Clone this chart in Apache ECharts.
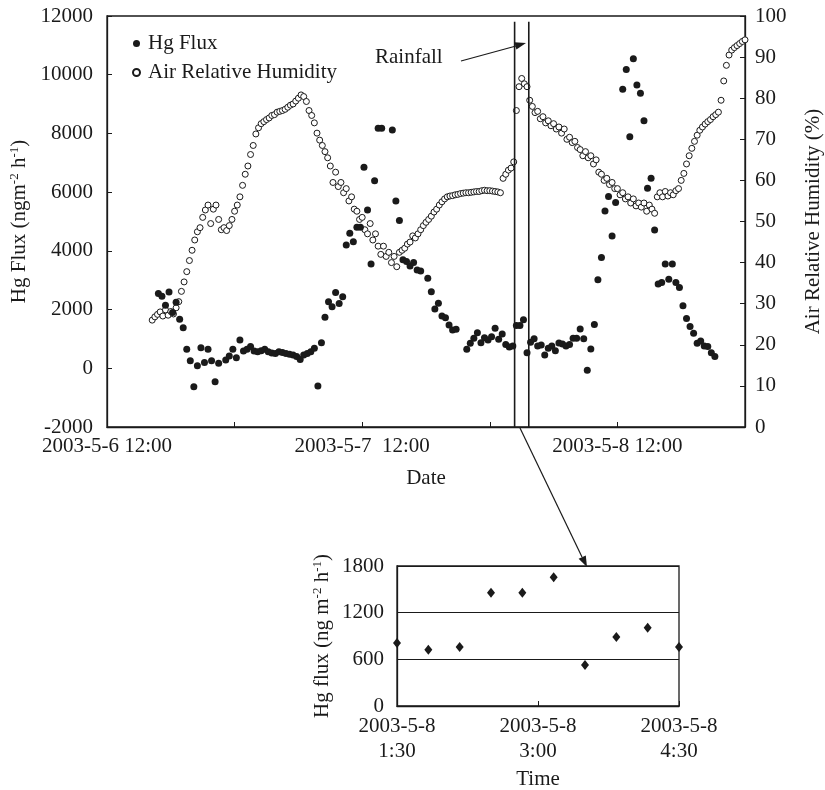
<!DOCTYPE html>
<html><head><meta charset="utf-8">
<script src="https://cdn.jsdelivr.net/npm/echarts@6/dist/echarts.min.js"></script>
<style>html,body{margin:0;padding:0;background:#fff}#c{width:825px;height:790px}</style>
</head><body><div id="c"></div>
<script>
// ---------- data ----------
const axisStart = '2003-05-06T12:00:00';
const axisEnd = '2003-05-09T00:00:00';
const xTickLabels = { 0: '2003-5-6 12:00', 24: '2003-5-7  12:00', 48: '2003-5-8 12:00' };

// Hg flux: one reading every 20 minutes from hgStart (null = no reading)
const hgStart = '2003-05-06T16:50:00';
const hgStepMin = 20;
const hgFlux = [
  2550, 2450, 2150, 2600, 1900, 2250, 1670, 1380, 650, 260,
  -630, 90, 700, 200, 650, 260, -460, 170, null, 280,
  420, 650, 360, 960, 590, 650, 740, 590, 560, 600,
  650, 560, 520, 500, 560, 540, 500, 480, 450, 400,
  300, 450, 500, 560, 680, -600, 870, 1740, 2270, 2100,
  2580, 2210, 2440, 4200, 4600, 4310, 4800, 4800, 6850, 5390,
  3550, 6390, 8180, 8180, null, null, 8120, 5700, 5030, 3700,
  3640, 3485, 3600, 3350, 3315, null, 3066, 2610, 2020, 2215,
  1782, 1724, 1475, 1305, 1329, null, null, 647, 852, 1022,
  1213, 872, 1043, 964, 1077, 1363, 988, 1168, 810, 724,
  759, 1457, 1457, 1654, 527, 887, 1007, 759, 794, 453,
  681, 760, 600, 860, 830, 760, 810, 1022, 1022, 1340,
  1010, -70, 658, 1490, 3020, 3775, 5360, 5850, 4510, 5650,
  null, 9505, 10175, 7890, 10545, 9650, 9370, 8430, 6130, 6470,
  4710, 2870, 2920, 3550, 3030, 3550, 2920, 2750, 2130, 1700,
  1420, 1190, 850, 930, 760, 740, 530, 400
];

// Air relative humidity (%): one reading every 15 minutes from humStart
const humStart = '2003-05-06T16:15:00';
const humStepMin = 15;
const humidity = [
  26.0, 26.8, 27.4,
  28.0, 27.0, 28.5, 27.2,  28.1, 27.5, 29.0, 30.5,  33.0, 35.3, 37.8, 40.5,
  43.0, 45.5, 47.5, 48.5,  51.0, 52.8, 54.0, 49.5,  53.0, 54.0, 50.5, 48.0,
  48.5, 47.8, 49.0, 50.5,  52.5, 54.0, 56.0, 58.8,  61.5, 63.5, 66.3, 68.5,
  71.3, 72.8, 73.8, 74.3,  74.8, 75.2, 75.8, 76.0,  76.6, 76.8, 77.0, 77.3,
  77.8, 78.3, 78.6, 79.3,  80.0, 80.8, 80.4, 79.2,  77.0, 75.8, 74.0, 71.5,
  69.8, 68.5, 67.0, 65.5,  63.5, 59.5, 62.0, 58.5,  59.5, 57.0, 58.0, 55.0,
  56.0, 53.0, 52.5, 50.5,  51.0, 48.0, 47.0, 49.5,  45.5, 47.0, 44.0, 42.0,
  44.0, 41.5, 42.5, 40.0,  41.5, 39.0, 42.5, 43.0,  43.5, 44.5, 45.0, 46.5,
  46.0, 47.0, 48.0, 49.0,  49.8, 50.5, 51.3, 52.3,  53.0, 54.0, 54.8, 55.5,
  56.0, 56.2, 56.3, 56.5,  56.6, 56.8, 56.9, 57.0,  57.0, 57.1, 57.2, 57.3,
  57.3, 57.5, 57.6, 57.5,  57.5, 57.4, 57.3, 57.2,  57.0, 60.5, 61.5, 62.5,
  63.0, 64.5, 77.0, 82.8,  84.8, 83.5, 82.8, 79.5,  78.0, 76.5, 76.8, 75.0,
  75.5, 74.0, 74.5, 73.3,  73.8, 72.5, 73.0, 71.5,  72.5, 70.0, 70.5, 69.2,
  69.5, 68.0, 67.5, 66.0,  67.0, 65.5, 66.0, 64.0,  65.0, 62.0, 61.5, 60.0,
  60.5, 59.0, 59.5, 58.0,  58.0, 56.5, 57.0, 55.5,  56.0, 54.5, 55.5, 53.8,
  54.5, 53.5, 54.5, 52.5,  54.0, 53.0, 52.0, 56.0,  57.0, 56.0, 57.3, 56.2,
  57.0, 56.5, 57.5, 58.0,  60.0, 61.7, 64.0, 66.0,  67.8, 69.5, 71.0, 72.2,
  73.0, 73.7, 74.3, 74.8,  75.5, 76.0, 76.6, 79.5,  84.2, 88.0, 90.5, 91.7,
  92.3, 92.8, 93.3, 93.8,  94.2
];

// Rainfall period (vertical lines)
const rainfallTimes = ['2003-05-08T02:20:00', '2003-05-08T03:40:00'];
const rainLineTop = 11800;

// Inset: Hg flux 2003-5-8 1:30 - 4:30
const insetTimes = ['1:30', '1:50', '2:10', '2:30', '2:50', '3:10', '3:30', '3:50', '4:10', '4:30'];
const insetFlux = [810, 724, 759, 1457, 1457, 1654, 527, 887, 1007, 759];
const insetTickLabels = ['2003-5-8\n1:30', '2003-5-8\n3:00', '2003-5-8\n4:30'];

// ---------- build ----------
const T0 = new Date(axisStart).getTime();
const hoursFrom = s => (new Date(s).getTime() - T0) / 3600000;
const hgT0 = hoursFrom(hgStart);
const humT0 = hoursFrom(humStart);
const hgData = [];
hgFlux.forEach((v, i) => { if (v !== null) hgData.push([hgT0 + i * hgStepMin / 60, v]); });
const humData = humidity.map((v, i) => [humT0 + i * humStepMin / 60, v]);
const tMax = hoursFrom(axisEnd);
const toMin = s => { const p = s.split(':'); return (+p[0]) * 60 + (+p[1]); };
const insetBase = toMin(insetTimes[0]);
const insetData = insetTimes.map((t, i) => [toMin(t) - insetBase, insetFlux[i]]);
const insetMax = toMin(insetTimes[insetTimes.length - 1]) - insetBase;

const FONT = '"Liberation Serif", "Times New Roman", serif';
const INK = '#1a1a1a';
const FS = 21;
const txt = (size) => ({ fontFamily: FONT, fontSize: size, color: INK });
const axisLine = { show: true, onZero: false, lineStyle: { color: INK, width: 1.3 } };
const plain = v => String(v);
const supName = { rich: { a: { ...txt(FS), lineHeight: 23 }, s: { ...txt(13), verticalAlign: 'top', lineHeight: 23 } } };

const chart = echarts.init(document.getElementById('c'), null, { renderer: 'canvas' });
const rainSeries = rainfallTimes.map(t => ({
  type: 'line', xAxisIndex: 0, yAxisIndex: 0, silent: true, symbol: 'none', z: 4,
  data: [[hoursFrom(t), -2000], [hoursFrom(t), rainLineTop]],
  lineStyle: { color: INK, width: 1.6 }
}));

chart.setOption({
  animation: false,
  backgroundColor: '#fff',
  grid: [
    { left: 107, top: 16, width: 638, height: 411, show: true, borderColor: INK, borderWidth: 1.3,
      backgroundColor: 'transparent', containLabel: false, outerBoundsMode: 'none' },
    { left: 397, top: 566, width: 282, height: 140, show: true, borderColor: INK, borderWidth: 1.3,
      backgroundColor: 'transparent', containLabel: false, outerBoundsMode: 'none' }
  ],
  legend: {
    data: ['Hg Flux', 'Air Relative Humidity'],
    orient: 'vertical', left: 127, top: 28, itemWidth: 13, itemHeight: 7, itemGap: 8,
    textStyle: txt(FS), selectedMode: false
  },
  xAxis: [
    {
      type: 'value', gridIndex: 0, min: 0, max: tMax, interval: 12,
      axisLine, axisTick: { inside: true, length: 5, lineStyle: { color: INK } },
      splitLine: { show: false },
      axisLabel: { ...txt(FS), margin: 9, showMaxLabel: true, formatter: v => xTickLabels[v] || '' },
      name: 'Date', nameLocation: 'middle', nameGap: 41, nameTextStyle: txt(FS)
    },
    {
      type: 'value', gridIndex: 1, min: 0, max: insetMax, interval: 90,
      axisLine, axisTick: { inside: true, length: 5, lineStyle: { color: INK } },
      splitLine: { show: false },
      axisLabel: { ...txt(FS), margin: 8, lineHeight: 25, formatter: v => insetTickLabels[Math.round(v / 90)] || '' },
      name: 'Time', nameLocation: 'middle', nameGap: 63, nameTextStyle: txt(FS)
    }
  ],
  yAxis: [
    {
      type: 'value', gridIndex: 0, min: -2000, max: 12000, interval: 2000, position: 'left',
      axisLine, axisTick: { show: true, inside: true, length: 5, lineStyle: { color: INK } },
      splitLine: { show: false },
      axisLabel: { ...txt(FS), margin: 14, formatter: plain },
      name: '{a|Hg Flux (ngm}{s|-2}{a| h}{s|-1}{a|)}', nameLocation: 'middle', nameGap: 76, nameRotate: 90,
      nameTextStyle: supName
    },
    {
      type: 'value', gridIndex: 0, min: 0, max: 100, interval: 10, position: 'right',
      axisLine, axisTick: { show: true, inside: true, length: 5, lineStyle: { color: INK } },
      splitLine: { show: false },
      axisLabel: { ...txt(FS), margin: 10, formatter: plain },
      name: 'Air Relative Humidity (%)', nameLocation: 'middle', nameGap: 58, nameRotate: 90,
      nameTextStyle: txt(FS)
    },
    {
      type: 'value', gridIndex: 1, min: 0, max: 1800, interval: 600,
      axisLine, axisTick: { show: false },
      splitLine: { show: true, lineStyle: { color: INK, width: 1 } },
      axisLabel: { ...txt(FS), margin: 13, formatter: plain },
      name: '{a|Hg flux (ng m}{s|-2}{a| h}{s|-1}{a|)}', nameLocation: 'middle', nameGap: 63, nameRotate: 90,
      nameTextStyle: supName
    }
  ],
  series: [
    {
      name: 'Air Relative Humidity', type: 'scatter', xAxisIndex: 0, yAxisIndex: 1, z: 2,
      symbol: 'circle', symbolSize: 6, data: humData,
      itemStyle: { color: '#fff', borderColor: INK, borderWidth: 1, opacity: 1 }
    },
    {
      name: 'Hg Flux', type: 'scatter', xAxisIndex: 0, yAxisIndex: 0, z: 3,
      symbol: 'circle', symbolSize: 7, data: hgData,
      itemStyle: { color: INK, opacity: 1 }
    },
    ...rainSeries,
    {
      name: 'inset', type: 'scatter', xAxisIndex: 1, yAxisIndex: 2, z: 3,
      symbol: 'diamond', symbolSize: [8, 10], data: insetData,
      itemStyle: { color: INK, opacity: 1 }
    }
  ],
  graphic: [
    { type: 'text', style: { x: 375, y: 57, text: 'Rainfall', font: FS + 'px ' + FONT, fill: INK, verticalAlign: 'middle' } },
    { type: 'line', shape: { x1: 461, y1: 61, x2: 516, y2: 46 }, style: { stroke: INK, lineWidth: 1.2 } },
    { type: 'polygon', shape: { points: [[526, 43], [516.4, 49.6], [514.4, 42.2]] }, style: { fill: INK } },
    { type: 'line', shape: { x1: 520, y1: 428, x2: 582, y2: 557 }, style: { stroke: INK, lineWidth: 1.2 } },
    { type: 'polygon', shape: { points: [[587, 567], [578.6, 558.8], [585.8, 555.4]] }, style: { fill: INK } }
  ]
});
</script></body></html>
